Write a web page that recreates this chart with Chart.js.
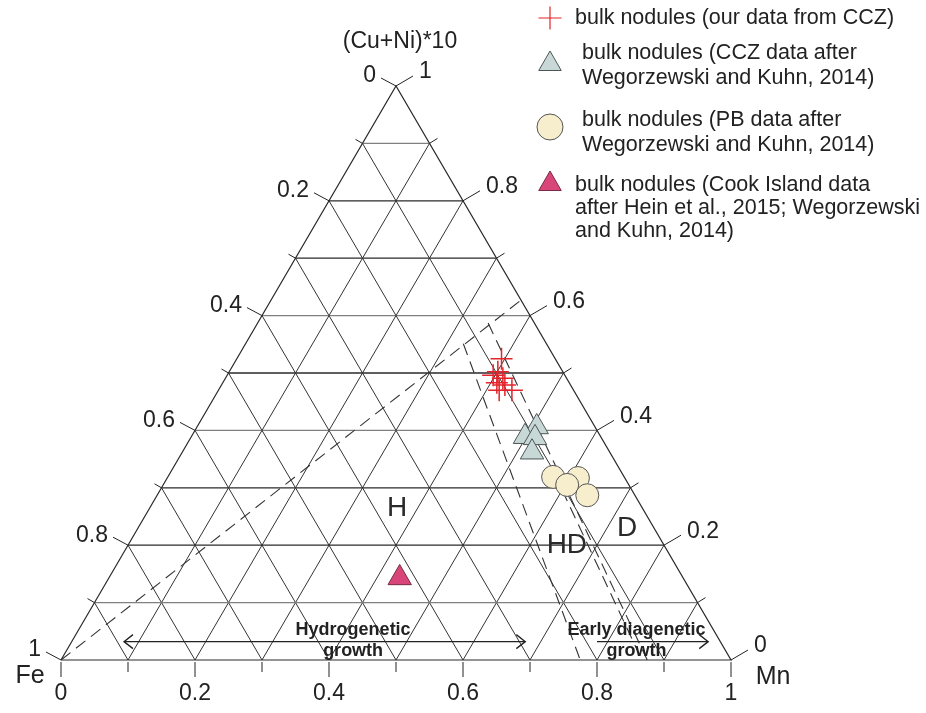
<!DOCTYPE html>
<html>
<head>
<meta charset="utf-8">
<script src="https://cdn.jsdelivr.net/npm/chart.js@4.4.1/dist/chart.umd.min.js"></script>
<style>
  html, body { margin: 0; padding: 0; background: #fff; }
  canvas { display: block; }
</style>
</head>
<body>
<canvas id="ternary" width="926" height="713"></canvas>
<script>
// Compositions as fractions of Fe, Mn and (Cu+Ni)*10 (each row sums to 1)
const cczOurFe    = [0.080, 0.097, 0.107, 0.095, 0.108, 0.098, 0.092, 0.111];
const cczOurMn    = [0.395, 0.401, 0.397, 0.414, 0.409, 0.423, 0.438, 0.419];
const cczOurCuNi  = [0.525, 0.502, 0.496, 0.491, 0.483, 0.479, 0.470, 0.470];

const cczWKFe     = [0.087, 0.113, 0.099, 0.116];
const cczWKMn     = [0.507, 0.498, 0.514, 0.522];
const cczWKCuNi   = [0.406, 0.389, 0.387, 0.362];

const pbWKFe      = [0.106, 0.070, 0.092, 0.071];
const pbWKMn      = [0.575, 0.613, 0.603, 0.642];
const pbWKCuNi    = [0.319, 0.317, 0.305, 0.287];

const cookFe      = [0.423];
const cookMn      = [0.434];
const cookCuNi    = [0.143];

// Field boundaries (dashed), start and end compositions as [Mn, (Cu+Ni)*10]
const boundaryStart = [[0.000, 0.000], [0.325, 0.551], [0.344, 0.587], [0.600, 0.296]];
const boundaryEnd   = [[0.373, 0.627], [0.775, 0.000], [0.875, 0.000], [0.867, 0.000]];

// Axis ticks and labels
const tickSteps   = [0, 0.1, 0.2, 0.3, 0.4, 0.5, 0.6, 0.7, 0.8, 0.9, 1];
const gridSteps   = [0.1, 0.2, 0.3, 0.4, 0.5, 0.6, 0.7, 0.8, 0.9];
const bottomLabels = ['0', '0.2', '0.4', '0.6', '0.8', '1'];
const leftLabels   = ['1', '0.8', '0.6', '0.4', '0.2', '0'];
const rightLabels  = ['0', '0.2', '0.4', '0.6', '0.8', '1'];
const strongRows   = [0.2, 0.3, 0.5, 0.7, 0.8];

const legendLines = [
  ['bulk nodules (our data from CCZ)'],
  ['bulk nodules (CCZ data after', 'Wegorzewski and Kuhn, 2014)'],
  ['bulk nodules (PB data after', 'Wegorzewski and Kuhn, 2014)'],
  ['bulk nodules (Cook Island data', 'after Hein et al., 2015; Wegorzewski', 'and Kuhn, 2014)']
];

// Ternary -> cartesian: Fe at (0,0), Mn at (1,0), (Cu+Ni)*10 at the apex (0.5,1)
const tern = (mn, cn) => ({ x: mn + cn / 2, y: cn });
const series = (mnArr, cnArr) => mnArr.map((m, i) => tern(m, cnArr[i]));

const FONT = '"Liberation Sans", Arial, Helvetica, sans-serif';
const INK = '#222';

const datasets = [];

// Markers (drawn on top: low order)
datasets.push({
  label: 'bulk nodules (our data from CCZ)',
  data: series(cczOurMn, cczOurCuNi),
  pointStyle: 'cross', pointRadius: 11, borderWidth: 1.5,
  borderColor: '#e3242b', backgroundColor: 'rgba(0,0,0,0)', order: 1, clip: false
});
datasets.push({
  label: 'bulk nodules (CCZ data after Wegorzewski and Kuhn, 2014)',
  data: series(cczWKMn, cczWKCuNi),
  pointStyle: 'triangle', pointRadius: 13.5, borderWidth: 1,
  borderColor: '#4d5555', backgroundColor: '#c7d8d7', order: 2, clip: false
});
datasets.push({
  label: 'bulk nodules (PB data after Wegorzewski and Kuhn, 2014)',
  data: series(pbWKMn, pbWKCuNi),
  pointStyle: 'circle', pointRadius: 11.5, borderWidth: 1,
  borderColor: '#555', backgroundColor: '#f7eecd', order: 3, clip: false
});
datasets.push({
  label: 'bulk nodules (Cook Island data after Hein et al., 2015; Wegorzewski and Kuhn, 2014)',
  data: series(cookMn, cookCuNi),
  pointStyle: 'triangle', pointRadius: 13.5, borderWidth: 1,
  borderColor: '#7a2a44', backgroundColor: '#d84579', order: 4, clip: false
});

// Dashed field boundaries
boundaryStart.forEach((s, i) => {
  const e = boundaryEnd[i];
  datasets.push({
    data: [tern(s[0], s[1]), tern(e[0], e[1])],
    showLine: true, pointRadius: 0, borderWidth: 1.1, borderColor: '#333',
    borderDash: [12, 7], fill: false, order: 10, clip: false
  });
});

// Triangle outline
datasets.push({
  data: [tern(0, 0), tern(1, 0), tern(0, 1), tern(0, 0)],
  showLine: true, pointRadius: 0, borderWidth: 1.2, borderColor: '#2a2a2a',
  fill: false, order: 20, clip: false
});

// Grid lines: constant (Cu+Ni)*10 rows and the two slanted families
gridSteps.forEach(v => {
  const strong = strongRows.some(s => Math.abs(s - v) < 1e-9);
  datasets.push({
    data: [tern(0, v), tern(1 - v, v)],
    showLine: true, pointRadius: 0, borderWidth: strong ? 1.3 : 1.1,
    borderColor: strong ? '#2a2a2a' : '#808080', fill: false, order: 20, clip: false
  });
  datasets.push({
    data: [tern(v, 0), tern(v, 1 - v)],
    showLine: true, pointRadius: 0, borderWidth: 1, borderColor: '#333',
    fill: false, order: 20, clip: false
  });
  datasets.push({
    data: [tern(v, 0), tern(0, v)],
    showLine: true, pointRadius: 0, borderWidth: 1, borderColor: '#333',
    fill: false, order: 20, clip: false
  });
});

function line(ctx, x1, y1, x2, y2) {
  ctx.beginPath(); ctx.moveTo(x1, y1); ctx.lineTo(x2, y2); ctx.stroke();
}

const decorations = {
  id: 'decorations',
  afterDraw(chart) {
    const ctx = chart.ctx;
    const sx = chart.scales.x, sy = chart.scales.y;
    const toPx = p => [sx.getPixelForValue(p.x), sy.getPixelForValue(p.y)];

    ctx.save();
    ctx.strokeStyle = INK;
    ctx.fillStyle = INK;
    ctx.lineWidth = 1;

    // Axis ticks and their labels
    tickSteps.forEach((v, i) => {
      const major = i % 2 === 0;
      // bottom (Mn)
      let [bx, by] = toPx(tern(v, 0));
      line(ctx, bx, by + 2, bx, by + (major ? 17 : 12));
      // left side
      let [lx, ly] = toPx(tern(0, v));
      if (major) line(ctx, lx, ly, lx - 15, ly - 8); else line(ctx, lx, ly, lx - 7, ly - 4);
      // right side
      let [rx, ry] = toPx(tern(1 - v, v));
      if (major) line(ctx, rx, ry, rx + 17, ry - 10); else line(ctx, rx, ry, rx + 8, ry - 5);

      if (major) {
        const k = i / 2;
        ctx.font = '23px ' + FONT;
        ctx.textBaseline = 'middle';
        ctx.textAlign = 'center';
        ctx.fillText(bottomLabels[k], bx, by + 34);
        ctx.textAlign = 'right';
        ctx.fillText(leftLabels[k], lx - 20, ly - 10);
        ctx.textAlign = 'left';
        ctx.fillText(rightLabels[k], rx + 23, ry - 14);
      }
    });

    // Vertex names and apex title
    ctx.font = '25px ' + FONT;
    ctx.textAlign = 'center';
    ctx.textBaseline = 'middle';
    const [fx, fy] = toPx(tern(0, 0));
    const [mx, my] = toPx(tern(1, 0));
    const [ax, ay] = toPx(tern(0, 1));
    ctx.fillText('Fe', fx - 31, fy + 16);
    ctx.fillText('Mn', mx + 42, my + 17);
    ctx.font = '23px ' + FONT;
    ctx.fillText('(Cu+Ni)*10', ax + 4, ay - 44);

    // Field names
    ctx.font = '28px ' + FONT;
    ctx.fillStyle = '#2a2a2a';
    const field = (txt, mn, cn) => { const [x, y] = toPx(tern(mn, cn)); ctx.fillText(txt, x, y); };
    field('H', 0.369, 0.265);
    field('HD', 0.655, 0.200);
    field('D', 0.730, 0.230);

    // Growth arrows
    ctx.fillStyle = INK;
    ctx.lineWidth = 1.3;
    const arrowY = sy.getPixelForValue(0.032);
    const head = (x, y, dir) => {
      ctx.beginPath();
      ctx.moveTo(x - dir * 9, y - 7); ctx.lineTo(x, y); ctx.lineTo(x - dir * 9, y + 7);
      ctx.stroke();
    };
    const h1 = sx.getPixelForValue(0.094), h2 = sx.getPixelForValue(0.693);
    line(ctx, h1, arrowY, h2, arrowY);
    head(h1, arrowY, -1); head(h2, arrowY, 1);
    const e1 = sx.getPixelForValue(0.800), e2 = sx.getPixelForValue(0.966);
    line(ctx, e1, arrowY, e2, arrowY);
    head(e2, arrowY, 1);

    ctx.font = 'bold 18px ' + FONT;
    ctx.textAlign = 'center';
    const hc = sx.getPixelForValue(0.436), ec = sx.getPixelForValue(0.859);
    ctx.fillText('Hydrogenetic', hc, arrowY - 12);
    ctx.fillText('growth', hc, arrowY + 9);
    ctx.fillText('Early diagenetic', ec, arrowY - 12);
    ctx.fillText('growth', ec, arrowY + 9);

    // Legend
    const symX = 550;
    const entries = [
      { ds: chart.data.datasets[0], y: 18,  textX: 575, lineY: [18] },
      { ds: chart.data.datasets[1], y: 64,  textX: 582, lineY: [53, 78] },
      { ds: chart.data.datasets[2], y: 127, textX: 582, lineY: [120, 145] },
      { ds: chart.data.datasets[3], y: 184, textX: 575, lineY: [185, 208, 231] }
    ];
    entries.forEach((en, i) => {
      const ds = en.ds;
      ctx.save();
      ctx.fillStyle = ds.backgroundColor;
      ctx.strokeStyle = ds.borderColor;
      ctx.lineWidth = ds.pointStyle === 'cross' ? 1.2 : ds.borderWidth;
      Chart.helpers.drawPoint(ctx, {
        pointStyle: ds.pointStyle, radius: ds.pointStyle === 'cross' ? 11.5 : 13,
        rotation: 0, borderWidth: ds.borderWidth
      }, symX, en.y);
      ctx.restore();
      ctx.font = '21.5px ' + FONT;
      ctx.fillStyle = INK;
      ctx.textAlign = 'left';
      ctx.textBaseline = 'middle';
      legendLines[i].forEach((t, j) => ctx.fillText(t, en.textX, en.lineY[j]));
    });

    ctx.restore();
  }
};

new Chart(document.getElementById('ternary'), {
  type: 'scatter',
  data: { datasets },
  options: {
    responsive: false,
    animation: false,
    events: [],
    layout: { padding: { left: 61, right: 195, top: 86, bottom: 53 } },
    scales: {
      x: { type: 'linear', min: 0, max: 1, display: false },
      y: { type: 'linear', min: 0, max: 1, display: false }
    },
    plugins: { legend: { display: false }, tooltip: { enabled: false } }
  },
  plugins: [decorations]
});
</script>
</body>
</html>
